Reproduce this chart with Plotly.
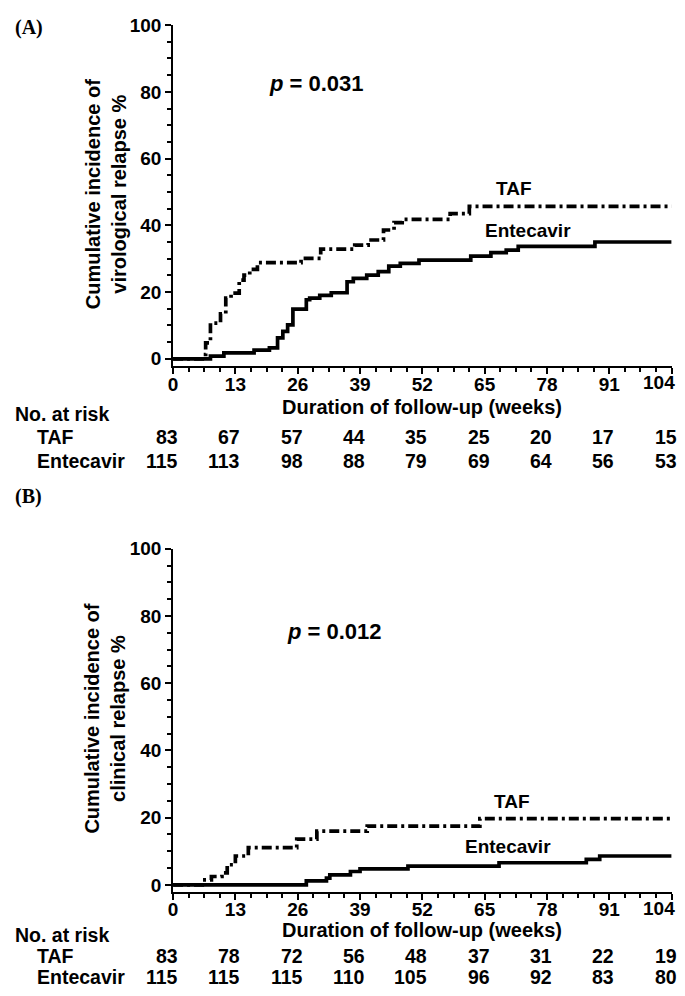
import plotly.graph_objects as go

# ---------------- data ----------------
# Panel A: virological relapse (step points: week, cumulative %)
taf_a_t = [0, 6.1, 6.8, 7.8, 9.9, 11.0, 12.1, 13.8, 14.8, 16.0, 17.6, 26.7, 30.8, 37.9, 40.7, 43.9, 46.1, 47.8, 57.8, 61.8, 104]
taf_a_v = [0, 1.3, 4.8, 10.7, 13.5, 18.2, 19.7, 23.6, 25.1, 26.8, 28.8, 30.1, 32.9, 34.1, 35.6, 38.6, 40.8, 41.8, 43.5, 45.7, 45.7]
etv_a_t = [0, 7.8, 10.6, 16.9, 20.1, 21.8, 22.9, 23.9, 25.0, 27.8, 28.5, 30.6, 33.0, 36.3, 37.6, 40.4, 42.8, 45.0, 47.4, 51.3, 62.1, 66.3, 69.5, 72.0, 88.0, 104]
etv_a_v = [0, 0.8, 1.8, 2.6, 3.3, 6.3, 8.2, 10.2, 14.9, 17.7, 18.2, 19.0, 19.8, 23.1, 24.1, 25.1, 26.1, 27.8, 28.6, 29.6, 30.8, 31.8, 32.6, 33.7, 35.0, 35.0]

# Panel B: clinical relapse
taf_b_t = [0, 6.1, 8.0, 10.2, 11.3, 13.0, 15.7, 25.8, 30.0, 40.5, 64.0, 104]
taf_b_v = [0, 1.5, 2.5, 3.6, 6.0, 8.6, 11.1, 13.6, 16.0, 17.5, 19.7, 19.7]
etv_b_t = [0, 27.8, 32.0, 32.7, 37.0, 39.0, 49.0, 68.0, 86.2, 89.0, 104]
etv_b_v = [0, 1.2, 2.0, 3.0, 4.0, 4.8, 5.6, 6.6, 7.6, 8.6, 8.6]

x_ticks = [0, 13, 26, 39, 52, 65, 78, 91, 104]
risk_taf_a = [83, 67, 57, 44, 35, 25, 20, 17, 15]
risk_etv_a = [115, 113, 98, 88, 79, 69, 64, 56, 53]
risk_taf_b = [83, 78, 72, 56, 48, 37, 31, 22, 19]
risk_etv_b = [115, 115, 115, 110, 105, 96, 92, 83, 80]

p_a = "0.031"
p_b = "0.012"
ytitle_a = "Cumulative incidence of<br>virological relapse %"
ytitle_b = "Cumulative incidence of<br>clinical relapse %"

# ---------------- layout helpers ----------------
# figure size chosen so the page (with body margins) fits the 685x996 window;
# placement targets are given in picture pixels and mapped to figure pixels
W, H = 669, 980
OX, OY, S = 13.7, 18.4, 0.986
FONT = "Liberation Sans, Arial, sans-serif"
SERIF = "Liberation Serif, Times New Roman, serif"

def px2x(px):
    return ((px - OX) / S) / W

def py2y(py):
    return 1 - ((py - OY) / S) / H

x0_px, x1_px = 172.7, 668.0
panels = {
    "A": dict(top=25.5, bottom=367.0, ymin=-2.3, label_y=28),
    "B": dict(top=549.3, bottom=892.3, ymin=-2.0, label_y=497),
}

fig = go.Figure()

line_taf = dict(color="black", width=3.7, dash="10px,4px,3px,4px", shape="hv")
line_etv = dict(color="black", width=3.7, shape="hv")

fig.add_trace(go.Scatter(x=etv_a_t, y=etv_a_v, mode="lines", line=line_etv, xaxis="x", yaxis="y", showlegend=False))
fig.add_trace(go.Scatter(x=taf_a_t, y=taf_a_v, mode="lines", line=line_taf, xaxis="x", yaxis="y", showlegend=False))
fig.add_trace(go.Scatter(x=etv_b_t, y=etv_b_v, mode="lines", line=line_etv, xaxis="x2", yaxis="y2", showlegend=False))
fig.add_trace(go.Scatter(x=taf_b_t, y=taf_b_v, mode="lines", line=line_taf, xaxis="x2", yaxis="y2", showlegend=False))

tickfont = dict(family=FONT, size=19, color="black", weight="bold")

def xaxis_cfg(p):
    # last label (104) sits at the page edge; it is drawn as a right-aligned text instead
    return dict(
        domain=[px2x(x0_px), px2x(x1_px)], range=[0, 104],
        anchor="y" if p == "A" else "y2",
        showline=True, linecolor="black", linewidth=1.8, mirror=False,
        showgrid=False, zeroline=False,
        tickmode="array", tickvals=x_ticks,
        ticktext=[str(v) if v != x_ticks[-1] else "" for v in x_ticks],
        ticks="outside", ticklen=6, tickwidth=1.8, tickcolor="black",
        ticklabelstandoff=-6,
        minor=dict(tick0=0, dtick=3.25, ticks="outside", ticklen=4, tickwidth=1.5, tickcolor="black", showgrid=False),
        tickfont=tickfont,
    )

def yaxis_cfg(p):
    d = panels[p]
    return dict(
        domain=[py2y(d["bottom"]), py2y(d["top"])], range=[d["ymin"], 100],
        anchor="x" if p == "A" else "x2",
        showline=True, linecolor="black", linewidth=1.8,
        showgrid=False, zeroline=False,
        tick0=0, dtick=20,
        ticks="outside", ticklen=6, tickwidth=1.8, tickcolor="black",
        minor=dict(tick0=0, dtick=5, ticks="outside", ticklen=4, tickwidth=1.5, tickcolor="black", showgrid=False),
        tickfont=tickfont,
    )

annotations = []

def txt(text, x, y, size=20, xanchor="center", yanchor="middle", xref="paper", yref="paper", family=FONT, angle=0, xshift=0):
    annotations.append(dict(
        text=text, x=x, y=y, xref=xref, yref=yref, showarrow=False,
        xanchor=xanchor, yanchor=yanchor, textangle=angle, xshift=xshift,
        font=dict(family=family, size=size, color="black", weight="bold"),
    ))

TABLE_FS = 19.5

def panel_text(p, letter, ytitle, pval, taf_xy, etv_xy, p_xy, risk_taf, risk_etv, ys):
    xr = "x" if p == "A" else "x2"
    yr = "y" if p == "A" else "y2"
    d = panels[p]
    txt("(" + letter + ")", 0, py2y(d["label_y"]), size=20, xanchor="left", family=SERIF)
    txt(ytitle, px2x(105.5), py2y((d["top"] + d["bottom"]) / 2 - 2), size=20, angle=-90)
    txt("<i>p</i> = " + pval, p_xy[0], p_xy[1], size=22, xref=xr, yref=yr)
    txt("TAF", taf_xy[0], taf_xy[1], size=19, xref=xr, yref=yr)
    txt("Entecavir", etv_xy[0], etv_xy[1], size=19, xref=xr, yref=yr)
    # last x tick label, kept inside the page
    txt(str(x_ticks[-1]), 1, py2y(ys[0]), size=19, xanchor="right")
    txt("Duration of follow-up (weeks)", 52, py2y(ys[1]), size=20, xref=xr)
    txt("No. at risk", 0, py2y(ys[2]), size=TABLE_FS, xanchor="left")
    txt("TAF", px2x(36), py2y(ys[3]), size=TABLE_FS, xanchor="left")
    txt("Entecavir", px2x(36), py2y(ys[4]), size=TABLE_FS, xanchor="left")
    for xv, a, b in zip(x_ticks, risk_taf, risk_etv):
        txt(str(a), xv, py2y(ys[3]), size=TABLE_FS, xanchor="right", xref=xr, xshift=7)
        txt(str(b), xv, py2y(ys[4]), size=TABLE_FS, xanchor="right", xref=xr, xshift=7)

panel_text("A", "A", ytitle_a, p_a, (71.1, 51.1), (74.0, 38.6), (29.9, 82.4),
           risk_taf_a, risk_etv_a, (383, 408, 415, 438, 462))
panel_text("B", "B", ytitle_b, p_b, (70.7, 24.9), (69.8, 11.5), (33.7, 75.4),
           risk_taf_b, risk_etv_b, (909, 931, 936, 956.5, 977.5))

fig.update_layout(
    width=W, height=H,
    margin=dict(l=0, r=0, t=0, b=0),
    paper_bgcolor="white", plot_bgcolor="white",
    xaxis=xaxis_cfg("A"), yaxis=yaxis_cfg("A"),
    xaxis2=xaxis_cfg("B"), yaxis2=yaxis_cfg("B"),
    annotations=annotations,
    showlegend=False,
)

fig.write_html("out.html")
